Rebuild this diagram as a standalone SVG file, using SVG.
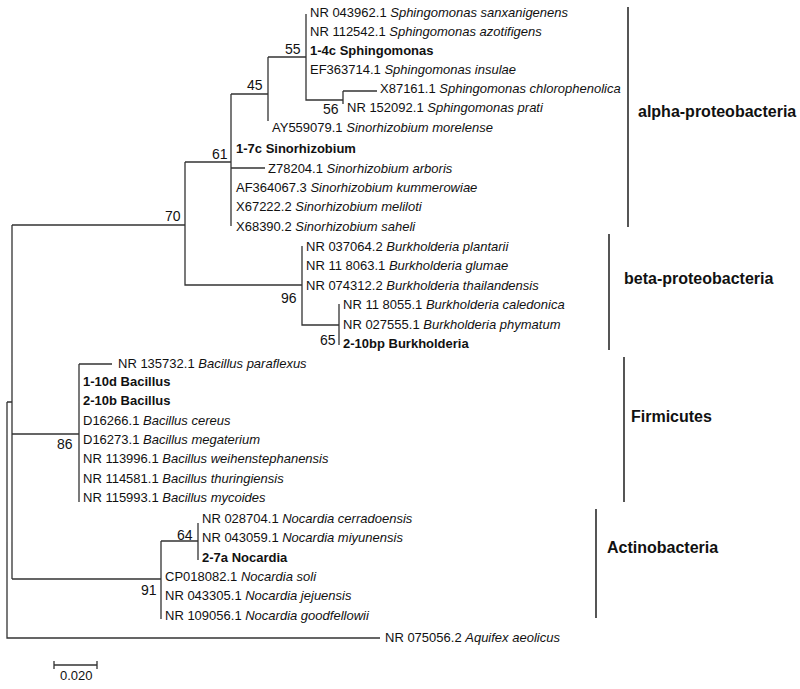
<svg xmlns="http://www.w3.org/2000/svg" width="800" height="689" viewBox="0 0 800 689">
<style>
text{font-family:"Liberation Sans",Arial,sans-serif;font-size:13px;fill:#111}
.b{font-weight:bold}
.i{font-style:italic}
.g{font-weight:bold;font-size:16px}
.n{font-size:14px}
path{fill:none;stroke:#333;stroke-width:1.3}
.br{stroke:#444;stroke-width:1.8}
</style>
<rect width="800" height="689" fill="#fff"/>
<g id="connectors">
<path d="M306 14V100H343M343 91V104M343 91H377M268 57H306M268 57V121M231 94H268M231 94V226M231 168H265M185 162H231M185 162V285H302M12 225H185M302 246V325H339M339 304V345"/>
<path d="M12 225V579M7 402H12M7 402V638H380M12 434H79M79 364V502M79 364H112M12 579H161M161 541V619M161 541H198M198 523V560"/>
<path class="br" d="M628 7V227M609 234V350M624 357V502M596 509V618"/>
<path d="M54 665H97M54 661V669M97 661V669"/>
</g>
<g id="leaves">
<text x="310" y="17">NR 043962.1 <tspan class="i">Sphingomonas sanxanigenens</tspan></text>
<text x="310" y="36">NR 112542.1 <tspan class="i">Sphingomonas azotifigens</tspan></text>
<text x="310" y="55" class="b">1-4c Sphingomonas</text>
<text x="310" y="74">EF363714.1 <tspan class="i">Sphingomonas insulae</tspan></text>
<text x="380" y="93">X87161.1 <tspan class="i">Sphingomonas chlorophenolica</tspan></text>
<text x="347" y="112">NR 152092.1 <tspan class="i">Sphingomonas prati</tspan></text>
<text x="272" y="132">AY559079.1 <tspan class="i">Sinorhizobium morelense</tspan></text>
<text x="236" y="153" class="b">1-7c Sinorhizobium</text>
<text x="268" y="173">Z78204.1 <tspan class="i">Sinorhizobium arboris</tspan></text>
<text x="236" y="192">AF364067.3 <tspan class="i">Sinorhizobium kummerowiae</tspan></text>
<text x="236" y="211">X67222.2 <tspan class="i">Sinorhizobium meliloti</tspan></text>
<text x="236" y="231">X68390.2 <tspan class="i">Sinorhizobium saheli</tspan></text>
<text x="306" y="251">NR 037064.2 <tspan class="i">Burkholderia plantarii</tspan></text>
<text x="306" y="270">NR 11 8063.1 <tspan class="i">Burkholderia glumae</tspan></text>
<text x="306" y="290">NR 074312.2 <tspan class="i">Burkholderia thailandensis</tspan></text>
<text x="343" y="309">NR 11 8055.1 <tspan class="i">Burkholderia caledonica</tspan></text>
<text x="343" y="329">NR 027555.1 <tspan class="i">Burkholderia phymatum</tspan></text>
<text x="343" y="348" class="b">2-10bp Burkholderia</text>
<text x="118" y="368">NR 135732.1 <tspan class="i">Bacillus paraflexus</tspan></text>
<text x="83" y="386" class="b">1-10d Bacillus</text>
<text x="83" y="405" class="b">2-10b Bacillus</text>
<text x="83" y="425">D16266.1 <tspan class="i">Bacillus cereus</tspan></text>
<text x="83" y="444">D16273.1 <tspan class="i">Bacillus megaterium</tspan></text>
<text x="83" y="463">NR 113996.1 <tspan class="i">Bacillus weihenstephanensis</tspan></text>
<text x="83" y="483">NR 114581.1 <tspan class="i">Bacillus thuringiensis</tspan></text>
<text x="83" y="502">NR 115993.1 <tspan class="i">Bacillus mycoides</tspan></text>
<text x="202" y="523">NR 028704.1 <tspan class="i">Nocardia cerradoensis</tspan></text>
<text x="202" y="542">NR 043059.1 <tspan class="i">Nocardia miyunensis</tspan></text>
<text x="202" y="562" class="b">2-7a Nocardia</text>
<text x="165" y="581">CP018082.1 <tspan class="i">Nocardia soli</tspan></text>
<text x="165" y="600">NR 043305.1 <tspan class="i">Nocardia jejuensis</tspan></text>
<text x="165" y="620">NR 109056.1 <tspan class="i">Nocardia goodfellowii</tspan></text>
<text x="385" y="642">NR 075056.2 <tspan class="i">Aquifex aeolicus</tspan></text>
</g>
<g id="support">
<text class="n" x="285" y="54">55</text>
<text class="n" x="247" y="90">45</text>
<text class="n" x="212" y="159">61</text>
<text class="n" x="165" y="221">70</text>
<text class="n" x="281" y="303">96</text>
<text class="n" x="320" y="345">65</text>
<text class="n" x="57" y="449">86</text>
<text class="n" x="177" y="540">64</text>
<text class="n" x="141" y="595">91</text>
<text class="n" x="323" y="114">56</text>
</g>
<g id="groups">
<text class="g" x="638" y="117">alpha-proteobacteria</text>
<text class="g" x="624" y="284">beta-proteobacteria</text>
<text class="g" x="631" y="422">Firmicutes</text>
<text class="g" x="607" y="553">Actinobacteria</text>
</g>
<text x="60" y="680">0.020</text>
</svg>
